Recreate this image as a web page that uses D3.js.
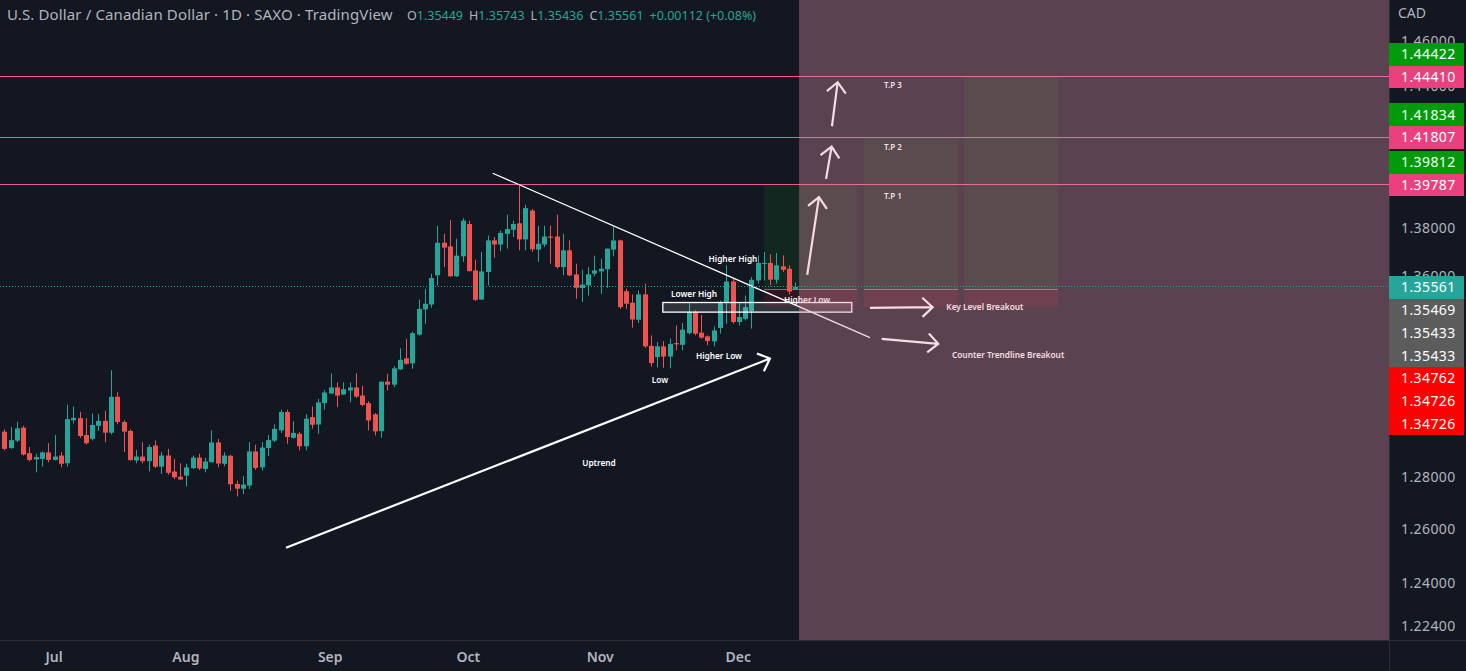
<!DOCTYPE html>
<html>
<head>
<meta charset="utf-8">
<script src="https://cdn.jsdelivr.net/npm/d3@7"></script>
<style>
  html, body { margin: 0; padding: 0; background: #131722; overflow: hidden; }
  text { font-family: "Noto Sans", sans-serif; }
</style>
</head>
<body>
<svg id="chart" width="1466" height="671"></svg>
<script>
// daily USD/CAD bars (Jun 24 -> mid Dec)
const opens = [
  1.2977,1.2913,1.2942,1.2993,1.2893,1.2869,1.2871,1.2896,1.2867,1.2884,
  1.2854,1.3022,1.3030,1.2964,1.2949,1.3000,1.3019,1.2973,1.3114,1.3015,
  1.2980,1.2865,1.2880,1.2862,1.2923,1.2841,1.2884,1.2822,1.2802,1.2806,
  1.2835,1.2876,1.2832,1.2858,1.2935,1.2852,1.2883,1.2774,1.2756,1.2768,
  1.2900,1.2838,1.2913,1.2942,1.2982,1.3054,1.2953,1.2969,1.2920,1.3034,
  1.3005,1.3089,1.3127,1.3151,1.3123,1.3139,1.3151,1.3119,1.3089,1.3045,
  1.2979,1.3174,1.3162,1.3223,1.3267,1.3247,1.3362,1.3464,1.3484,1.3603,
  1.3737,1.3722,1.3599,1.3681,1.3815,1.3623,1.3504,1.3617,1.3747,1.3730,
  1.3774,1.3791,1.3818,1.3751,1.3871,1.3709,1.3730,1.3763,1.3763,1.3637,
  1.3706,1.3607,1.3551,1.3562,1.3610,1.3619,1.3628,1.3709,1.3747,1.3538,
  1.3491,1.3422,1.3525,1.3317,1.3272,1.3315,1.3274,1.3328,1.3321,1.3368,
  1.3453,1.3370,1.3355,1.3335,1.3389,1.3493,1.3578,1.3413,1.3426,1.3457,
  1.3582,1.3651,1.3654,1.3585,1.3640,1.3630,1.35449
];
const highs = [
  1.2986,1.2995,1.3015,1.3000,1.2917,1.2891,1.2900,1.2932,1.2964,1.2897,
  1.3083,1.3076,1.3055,1.3030,1.3048,1.3046,1.3059,1.3220,1.3132,1.3022,
  1.2986,1.2906,1.2936,1.2927,1.2943,1.2897,1.2910,1.2871,1.2854,1.2852,
  1.2884,1.2891,1.2875,1.2982,1.2949,1.2897,1.2887,1.2787,1.2804,1.2936,
  1.2926,1.2936,1.2964,1.3006,1.3063,1.3063,1.3018,1.2976,1.3045,1.3076,
  1.3106,1.3141,1.3207,1.3171,1.3171,1.3171,1.3207,1.3158,1.3097,1.3050,
  1.3174,1.3205,1.3235,1.3307,1.3345,1.3374,1.3504,1.3548,1.3610,1.3808,
  1.3774,1.3832,1.3754,1.3839,1.3829,1.3667,1.3699,1.3767,1.3761,1.3788,
  1.3854,1.3829,1.3976,1.3895,1.3878,1.3808,1.3808,1.3808,1.3854,1.3774,
  1.3747,1.3651,1.3626,1.3637,1.3684,1.3671,1.3713,1.3804,1.3750,1.3548,
  1.3525,1.3541,1.3569,1.3359,1.3332,1.3336,1.3346,1.3399,1.3409,1.3489,
  1.3460,1.3442,1.3359,1.3395,1.3500,1.3644,1.3589,1.3493,1.3521,1.3596,
  1.3685,1.3699,1.3689,1.3695,1.3685,1.3644,1.35743
];
const lows = [
  1.2904,1.2910,1.2936,1.2884,1.2862,1.2819,1.2841,1.2858,1.2865,1.2839,
  1.2841,1.3009,1.2953,1.2927,1.2943,1.2980,1.2936,1.2966,1.3006,1.2897,
  1.2865,1.2854,1.2854,1.2823,1.2836,1.2813,1.2810,1.2793,1.2790,1.2764,
  1.2832,1.2828,1.2819,1.2858,1.2839,1.2843,1.2748,1.2726,1.2735,1.2755,
  1.2828,1.2826,1.2882,1.2936,1.2972,1.2930,1.2950,1.2904,1.2904,1.2989,
  1.2969,1.3063,1.3126,1.3073,1.3122,1.3093,1.3110,1.3076,1.2982,1.2962,
  1.2953,1.3139,1.3152,1.3221,1.3242,1.3225,1.3358,1.3406,1.3471,1.3562,
  1.3637,1.3597,1.3597,1.3658,1.3619,1.3498,1.3503,1.3562,1.3675,1.3702,
  1.3713,1.3761,1.3706,1.3706,1.3699,1.3658,1.3719,1.3651,1.3631,1.3603,
  1.3599,1.3507,1.3494,1.3521,1.3599,1.3527,1.3552,1.3681,1.3466,1.3466,
  1.3390,1.3409,1.3309,1.3234,1.3231,1.3229,1.3227,1.3299,1.3299,1.3363,
  1.3359,1.3346,1.3319,1.3315,1.3366,1.3406,1.3406,1.3399,1.3419,1.3386,
  1.3569,1.3582,1.3562,1.3569,1.3617,1.3525,1.35436
];
const closes = [
  1.2910,1.2944,1.2990,1.2888,1.2867,1.2878,1.2896,1.2867,1.2880,1.2852,
  1.3026,1.3031,1.2960,1.2932,1.3003,1.3019,1.2973,1.3114,1.3015,1.2977,
  1.2866,1.2880,1.2862,1.2917,1.2841,1.2884,1.2817,1.2800,1.2791,1.2838,
  1.2876,1.2834,1.2861,1.2935,1.2853,1.2884,1.2773,1.2756,1.2772,1.2900,
  1.2836,1.2915,1.2944,1.2988,1.3054,1.2956,1.2972,1.2920,1.3028,1.3004,
  1.3092,1.3131,1.3151,1.3119,1.3144,1.3151,1.3115,1.3082,1.3021,1.2978,
  1.3174,1.3162,1.3227,1.3261,1.3245,1.3368,1.3466,1.3487,1.3592,1.3737,
  1.3717,1.3599,1.3684,1.3829,1.3620,1.3503,1.3619,1.3747,1.3730,1.3778,
  1.3794,1.3815,1.3751,1.3881,1.3710,1.3733,1.3763,1.3758,1.3637,1.3706,
  1.3603,1.3552,1.3565,1.3607,1.3623,1.3630,1.3713,1.3747,1.3473,1.3487,
  1.3423,1.3525,1.3315,1.3248,1.3315,1.3274,1.3325,1.3323,1.3382,1.3453,
  1.3366,1.3350,1.3336,1.3379,1.3493,1.3578,1.3413,1.3433,1.3473,1.3585,
  1.3654,1.3654,1.3585,1.3644,1.3626,1.3537,1.35561
];

const monthNames = ["Jul", "Aug", "Sep", "Oct", "Nov", "Dec"];
const monthBars = [8, 29, 52, 74, 95, 117];
const priceTicks = [1.46, 1.44, 1.38, 1.36, 1.28, 1.26, 1.24, 1.224];

// target levels and the long-position tools drawn on them
const targetLevels = [1.44410, 1.41807, 1.39787];
const entryPrices = [1.35469, 1.35433, 1.35433];
const stopPrices = [1.34762, 1.34726, 1.34726];
const profitPrices = [1.39812, 1.41834, 1.44422];
const toolStartBars = [121, 136.9, 152.9];
const toolEndBars = [135.8, 151.9, 167.85];

// arrows as tailBar, tailPrice, tipBar, tipPrice
const arrowTails = [[44.87, 1.2531], [127.9, 1.3605], [130.9, 1.4004], [131.84, 1.4228], [137.9, 1.3470], [139.76, 1.3345]];
const arrowTips = [[121.96, 1.3266], [129.77, 1.3927], [131.79, 1.4141], [132.75, 1.4418], [147.88, 1.3473], [148.77, 1.3325]];

const noteTexts = ["T.P 3", "T.P 2", "T.P 1", "Higher High", "Lower High", "Higher Low", "Higher Low", "Low", "Uptrend", "Key Level Breakout", "Counter Trendline Breakout"];
const noteBars = [141.55, 141.55, 141.55, 116.07, 109.86, 127.86, 113.84, 104.44, 94.73, 156.2, 159.9];
const notePrices = [1.4403, 1.4137, 1.3929, 1.3668, 1.3524, 1.35, 1.3274, 1.3178, 1.2852, 1.3471, 1.3278];

const width = 1466, height = 671, plotW = 1389, plotH = 640;
const bg = "#131722", up = "#26a69a", down = "#ef5350", gridLine = "#2a2e39", axisText = "#b2b5be";
const pink = "#f0568f", labelH = 22.7;

const x = d3.scaleLinear().domain([0, 126]).range([4.3, 795.3]);
const y = d3.scaleLog().domain([1.46, 1.24]).range([40.6, 582.6]);

const svg = d3.select("#chart");
svg.append("rect").attr("width", width).attr("height", height).attr("fill", bg);
svg.append("clipPath").attr("id", "plot").append("rect").attr("width", plotW).attr("height", plotH);

const plot = svg.append("g").attr("clip-path", "url(#plot)");

// position tools, green above entry and red below
const tools = d3.range(entryPrices.length);
plot.selectAll("rect.profit").data(tools).join("rect").attr("class", "profit")
  .attr("x", i => x(toolStartBars[i]))
  .attr("width", i => x(toolEndBars[i]) - x(toolStartBars[i]))
  .attr("y", i => y(profitPrices[i]))
  .attr("height", i => y(entryPrices[i]) - y(profitPrices[i]))
  .attr("fill", "rgb(20,170,10)").attr("fill-opacity", 0.11);
plot.selectAll("rect.stop").data(tools).join("rect").attr("class", "stop")
  .attr("x", i => x(toolStartBars[i]))
  .attr("width", i => x(toolEndBars[i]) - x(toolStartBars[i]))
  .attr("y", i => y(entryPrices[i]))
  .attr("height", i => y(stopPrices[i]) - y(entryPrices[i]))
  .attr("fill", "rgb(255,0,40)").attr("fill-opacity", 0.13);
plot.selectAll("line.entry").data(tools).join("line").attr("class", "entry")
  .attr("x1", i => x(toolStartBars[i])).attr("x2", i => x(toolEndBars[i]))
  .attr("y1", i => y(entryPrices[i])).attr("y2", i => y(entryPrices[i]))
  .attr("stroke", "#9a9a9a").attr("stroke-opacity", 0.7)
  .attr("shape-rendering", "crispEdges");

// candles
const bars = d3.range(opens.length);
const colorOf = i => closes[i] >= opens[i] ? up : down;
const candle = plot.selectAll("g.candle").data(bars).join("g").attr("class", "candle");
candle.append("rect")
  .attr("x", i => Math.round(x(i)))
  .attr("width", 1)
  .attr("y", i => y(highs[i]))
  .attr("height", i => y(lows[i]) - y(highs[i]))
  .attr("fill", colorOf);
candle.append("rect")
  .attr("x", i => Math.round(x(i)) - 2)
  .attr("width", 5)
  .attr("y", i => y(Math.max(opens[i], closes[i])))
  .attr("height", i => Math.max(1, Math.abs(y(opens[i]) - y(closes[i]))))
  .attr("fill", colorOf);

// target lines
plot.selectAll("line.target").data(targetLevels).join("line").attr("class", "target")
  .attr("x1", 0).attr("x2", plotW)
  .attr("y1", d => y(d)).attr("y2", d => y(d))
  .attr("stroke", pink).attr("stroke-width", 1)
  .attr("shape-rendering", "crispEdges");

// key level box + falling trendline
plot.append("rect")
  .attr("x", x(104.9)).attr("width", x(135) - x(104.9))
  .attr("y", y(1.3492)).attr("height", y(1.3453) - y(1.3492))
  .attr("fill", "#fff").attr("fill-opacity", 0.12)
  .attr("stroke", "#fff").attr("stroke-width", 1.3);
plot.append("line")
  .attr("x1", x(77.8)).attr("y1", y(1.4028))
  .attr("x2", x(137.9)).attr("y2", y(1.3350))
  .attr("stroke", "#fff").attr("stroke-width", 1.3);

// arrows, head worked out from the shaft direction
const arrowPath = (tail, tip) => {
  const x0 = x(tail[0]), y0 = y(tail[1]), x1 = x(tip[0]), y1 = y(tip[1]);
  const a = Math.atan2(y0 - y1, x0 - x1), len = 14, spread = 0.75;
  const p = d3.path();
  p.moveTo(x0, y0);
  p.lineTo(x1, y1);
  p.moveTo(x1 + len * Math.cos(a - spread), y1 + len * Math.sin(a - spread));
  p.lineTo(x1, y1);
  p.lineTo(x1 + len * Math.cos(a + spread), y1 + len * Math.sin(a + spread));
  return p.toString();
};
plot.selectAll("path.arrow").data(arrowTails).join("path").attr("class", "arrow")
  .attr("d", (d, i) => arrowPath(d, arrowTips[i]))
  .attr("fill", "none").attr("stroke", "#fff").attr("stroke-width", 2.2);

plot.selectAll("text.note").data(noteTexts).join("text").attr("class", "note")
  .attr("x", (d, i) => x(noteBars[i]))
  .attr("y", (d, i) => y(notePrices[i]))
  .attr("dy", "0.3em")
  .attr("text-anchor", "middle")
  .attr("fill", "#fff")
  .attr("font-size", (d, i) => i < 3 ? 8 : 8.3)
  .attr("font-weight", 600)
  .text(d => d);

// shaded zone sits on top of all the drawings
plot.append("rect")
  .attr("x", x(126.6)).attr("width", x(300) - x(126.6))
  .attr("y", y(1.7)).attr("height", y(1.15) - y(1.7))
  .attr("fill", "rgb(232,150,170)").attr("fill-opacity", 0.34);

// last price line
const last = closes[closes.length - 1];
plot.append("line")
  .attr("x1", 0).attr("x2", plotW)
  .attr("y1", y(last)).attr("y2", y(last))
  .attr("stroke", up).attr("stroke-width", 1).attr("stroke-dasharray", "1 2")
  .attr("shape-rendering", "crispEdges");

// panes
svg.append("line").attr("x1", 0).attr("x2", width).attr("y1", plotH + 0.5).attr("y2", plotH + 0.5).attr("stroke", gridLine);
svg.append("line").attr("x1", plotW + 0.5).attr("x2", plotW + 0.5).attr("y1", 0).attr("y2", height).attr("stroke", gridLine);

const yAxis = d3.axisRight(y).tickValues(priceTicks).tickFormat(d3.format(".5f")).tickSize(0).tickPadding(12);
const yG = svg.append("g").attr("transform", `translate(${plotW},0)`).call(yAxis);
yG.select(".domain").remove();
yG.selectAll("text").attr("fill", axisText).attr("font-size", 14).attr("letter-spacing", 0.4).attr("font-family", '"Noto Sans", sans-serif');

const xAxis = d3.axisBottom(x).tickValues(monthBars).tickFormat((d, i) => monthNames[i]).tickSize(0).tickPadding(12);
const xG = svg.append("g").attr("transform", `translate(-1,${plotH})`).call(xAxis);
xG.select(".domain").remove();
xG.selectAll("text").attr("fill", axisText).attr("font-size", 14).attr("font-weight", 600).attr("font-family", '"Noto Sans", sans-serif');

svg.append("text").attr("x", 1398).attr("y", 18).attr("fill", axisText).attr("font-size", 14).text("CAD");

// price tags: targets get the green one above, the rest stack under the last price
const tagX = plotW, tagW = 75;
const tag = (text, cy, color) => {
  svg.append("rect").attr("x", tagX).attr("y", cy - labelH / 2).attr("width", tagW).attr("height", labelH)
    .attr("fill", color).attr("shape-rendering", "crispEdges");
  svg.append("text").attr("x", 1401).attr("y", cy).attr("dy", "0.36em").attr("letter-spacing", 0.4)
    .attr("fill", "#fff").attr("font-size", 14).text(text);
};
const fmt = d3.format(".5f");
targetLevels.forEach((d, i) => {
  tag(fmt(profitPrices[2 - i]), y(d) - labelH, "#009a0a");
  tag(fmt(d), y(d), "#ec3f7e");
});
const lastY = y(last) + 0.6;
tag(fmt(last), lastY, up);
const greyTags = [1.35469, 1.35433, 1.35433];
const redTags = [1.34762, 1.34726, 1.34726];
greyTags.forEach((d, i) => tag(fmt(d), lastY + labelH * (i + 1), "#5c5c5c"));
redTags.forEach((d, i) => tag(fmt(d), lastY + labelH * (i + 4), "#ff0000"));

// header
svg.append("text").attr("x", 7).attr("y", 20).attr("fill", axisText).attr("font-size", 15).attr("letter-spacing", 0.13)
  .text("U.S. Dollar / Canadian Dollar · 1D · SAXO · TradingView");
const ohlcNames = ["O", "H", "L", "C"];
const ohlc = svg.append("text").attr("x", 407).attr("y", 20).attr("font-size", 12.5);
[opens, highs, lows, closes].forEach((arr, i) => {
  ohlc.append("tspan").attr("dx", i ? 6 : 0).attr("fill", axisText).text(ohlcNames[i]);
  ohlc.append("tspan").attr("fill", up).text(fmt(arr[arr.length - 1]));
});
ohlc.append("tspan").attr("dx", 6).attr("fill", up).text("+0.00112 (+0.08%)");
</script>
</body>
</html>
